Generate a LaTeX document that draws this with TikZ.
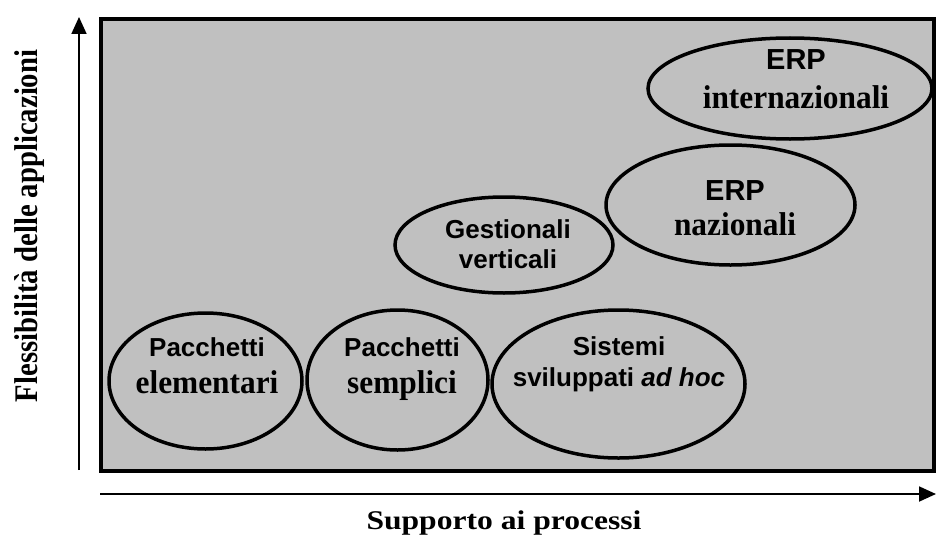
\documentclass[tikz,border=0pt]{standalone}
\usepackage{fontspec}
\setmainfont{Liberation Serif}
\newfontfamily\sansb{Liberation Sans}
\newfontfamily\serifwide[FakeStretch=1.17]{Liberation Serif}
\newfontfamily\serifnar[FakeStretch=0.95]{Liberation Serif}
\newfontfamily\serifylab[FakeStretch=0.87]{Liberation Serif}
\usetikzlibrary{shapes.geometric,arrows.meta}
\tikzset{
  oval/.style={draw=black,line width=3.5pt,ellipse,inner sep=0pt},
  sanst/.style={anchor=base,inner sep=0pt,font=\sansb\bfseries\fontsize{26}{30}\selectfont},
  erpt/.style={anchor=base,inner sep=0pt,font=\sansb\bfseries\fontsize{29}{33}\selectfont},
  serift/.style={anchor=base,inner sep=0pt,font=\serifnar\bfseries\fontsize{33}{37}\selectfont},
  axis/.style={line width=1.8pt,-{Triangle[length=17pt,width=15pt]}},
}
\begin{document}
\begin{tikzpicture}[x=1pt,y=-1pt]
\useasboundingbox (0,0) rectangle (936,543);
% frame
\node[draw=black,line width=4pt,fill={rgb,255:red,192;green,192;blue,192},minimum width=833pt,minimum height=452pt,inner sep=0pt] (frame) at (517.5,245) {};
% axes
\coordinate (yb) at (79,470);
\coordinate (yt) at (79,17);
\coordinate (xl) at (100,494);
\coordinate (xr) at (936,494);
\draw[axis] (yb) -- (yt);
\draw[axis] (xl) -- (xr);
\node[anchor=base,inner sep=0pt,font=\serifwide\bfseries\fontsize{27}{31}\selectfont] (xlab) at (504,529) {Supporto ai processi};
\node[anchor=base,inner sep=0pt,rotate=90,font=\serifylab\bfseries\fontsize{33}{37}\selectfont] (ylab) at (37,226) {Flessibilità delle applicazioni};
% ellipses
\node[oval,minimum width=193pt,minimum height=136pt] (pe) at (205.5,381) {};
\node[oval,minimum width=181pt,minimum height=140pt] (ps) at (397.5,380) {};
\node[oval,minimum width=253pt,minimum height=148pt] (ss) at (618.5,384) {};
\node[oval,minimum width=218pt,minimum height=96pt] (gv) at (504,245) {};
\node[oval,minimum width=249pt,minimum height=120pt] (en) at (730.5,205) {};
\node[oval,minimum width=284pt,minimum height=101pt] (ei) at (790,88.5) {};
% texts
\node[sanst] (pe1) at (207,356) {Pacchetti};
\node[serift] (pe2) at (207,393) {elementari};
\node[sanst] (ps1) at (402,356) {Pacchetti};
\node[serift] (ps2) at (402,393) {semplici};
\node[sanst] (ss1) at (619,355) {Sistemi};
\node[sanst] (ss2) at (619,386) {sviluppati \itshape ad hoc};
\node[sanst] (gv1) at (508,238) {Gestionali};
\node[sanst] (gv2) at (508,268) {verticali};
\node[erpt] (en1) at (735,200) {ERP};
\node[serift] (en2) at (735,235) {nazionali};
\node[erpt] (ei1) at (796,70) {ERP};
\node[serift] (ei2) at (796,108) {internazionali};
\end{tikzpicture}
\end{document}
